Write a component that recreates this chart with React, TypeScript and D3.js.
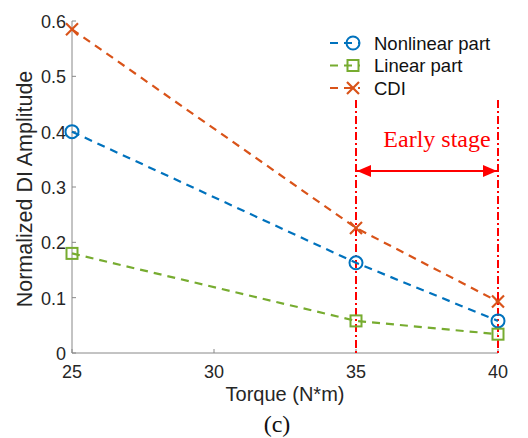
import React from "react";
import * as d3 from "d3";

const torque = [25, 35, 40];
const nonlinear = [0.4, 0.163, 0.058];
const linear = [0.18, 0.058, 0.034];
const cdi = [0.585, 0.226, 0.093];
const xTicks = [25, 30, 35, 40];
const yTicks = [0, 0.1, 0.2, 0.3, 0.4, 0.5, 0.6];
const seriesNames = ["Nonlinear part", "Linear part", "CDI"];
const stageBounds = [35, 40];

const W = 528, H = 438;
const x = d3.scaleLinear().domain([25, 40]).range([72, 498]);
const y = d3.scaleLinear().domain([0, 0.6]).range([353, 21]);

const colors = ["#0072BD", "#77AC30", "#D95319"];

function Marker({ kind, cx, cy, color }: { kind: number; cx: number; cy: number; color: string }) {
  if (kind === 0) return <circle cx={cx} cy={cy} r={6.5} fill="none" stroke={color} strokeWidth={2} />;
  if (kind === 1) return <rect x={cx - 5.5} y={cy - 5.5} width={11} height={11} fill="none" stroke={color} strokeWidth={2} />;
  return (
    <g stroke={color} strokeWidth={2.2}>
      <line x1={cx - 6} y1={cy - 6} x2={cx + 6} y2={cy + 6} />
      <line x1={cx - 6} y1={cy + 6} x2={cx + 6} y2={cy - 6} />
    </g>
  );
}

export default function App() {
  const all = [nonlinear, linear, cdi];
  const line = d3.line<number>().x((_, i) => x(torque[i])).y((d) => y(d));
  const font = "'Liberation Sans', Arial, sans-serif";
  const serif = "'Liberation Serif', 'Times New Roman', serif";
  const arrowY = 171;
  return (
    <svg width={W} height={H} style={{ position: "absolute", left: 0, top: 0, background: "#fff" }}>
      <defs>
        <marker id="ah" viewBox="0 0 10 10" refX="10" refY="5" markerWidth="7" markerHeight="6" orient="auto-start-reverse" markerUnits="strokeWidth" preserveAspectRatio="none">
          <path d="M0,0 L10,5 L0,10 z" fill="#ff0000" />
        </marker>
      </defs>
      {/* axes */}
      <g stroke="#888" strokeWidth={1} fill="none">
        <line x1={x(25)} y1={y(0)} x2={x(40)} y2={y(0)} />
        <line x1={x(25)} y1={y(0)} x2={x(25)} y2={y(0.6)} />
        {xTicks.map((t) => (
          <line key={t} x1={x(t)} x2={x(t)} y1={y(0)} y2={y(0) - 4} />
        ))}
        {yTicks.map((t) => (
          <line key={t} x1={x(25)} x2={x(25) + 4} y1={y(t)} y2={y(t)} />
        ))}
      </g>
      <g fontFamily={font} fontSize={18} fill="#262626">
        {xTicks.map((t) => (
          <text key={t} x={x(t)} y={y(0) + 25} textAnchor="middle">{t}</text>
        ))}
        {yTicks.map((t) => (
          <text key={t} x={x(25) - 6} y={y(t) + 7} textAnchor="end">{t === 0 ? "0" : t.toFixed(1)}</text>
        ))}
        <text x={285} y={401} textAnchor="middle" fontSize={20}>Torque (N*m)</text>
        <text transform={`translate(32,189) rotate(-90)`} textAnchor="middle" fontSize={21.5}>Normalized DI Amplitude</text>
      </g>
      <text x={277} y={432} textAnchor="middle" fontFamily={serif} fontSize={24} fill="#111">(c)</text>

      {/* red annotation */}
      <g stroke="#ff0000" strokeWidth={2} strokeDasharray="8,3,2,3">
        {stageBounds.map((b) => (
          <line key={b} x1={x(b)} x2={x(b)} y1={100} y2={y(0)} />
        ))}
      </g>
      <line x1={x(35) + 1} x2={x(40) - 1} y1={arrowY} y2={arrowY} stroke="#ff0000" strokeWidth={2} markerStart="url(#ah)" markerEnd="url(#ah)" />
      <text x={(x(35) + x(40)) / 2 + 10} y={147} textAnchor="middle" fontFamily={serif} fontSize={24} fill="#ff0000">Early stage</text>

      {/* series */}
      {all.map((s, k) => (
        <g key={k}>
          <path d={line(s) || ""} fill="none" stroke={colors[k]} strokeWidth={2.2} strokeDasharray="8,6" />
          {s.map((v, i) => (
            <Marker key={i} kind={k} cx={x(torque[i])} cy={y(v)} color={colors[k]} />
          ))}
        </g>
      ))}

      {/* legend */}
      <g fontFamily={font} fontSize={18.5} fill="#111">
        {seriesNames.map((n, k) => {
          const ly = 43 + k * 22.5;
          return (
            <g key={n}>
              <line x1={330} x2={360} y1={ly} y2={ly} stroke={colors[k]} strokeWidth={2.2} strokeDasharray="8,6" />
              <Marker kind={k} cx={353} cy={ly} color={colors[k]} />
              <text x={374} y={ly + 6.5}>{n}</text>
            </g>
          );
        })}
      </g>
    </svg>
  );
}
